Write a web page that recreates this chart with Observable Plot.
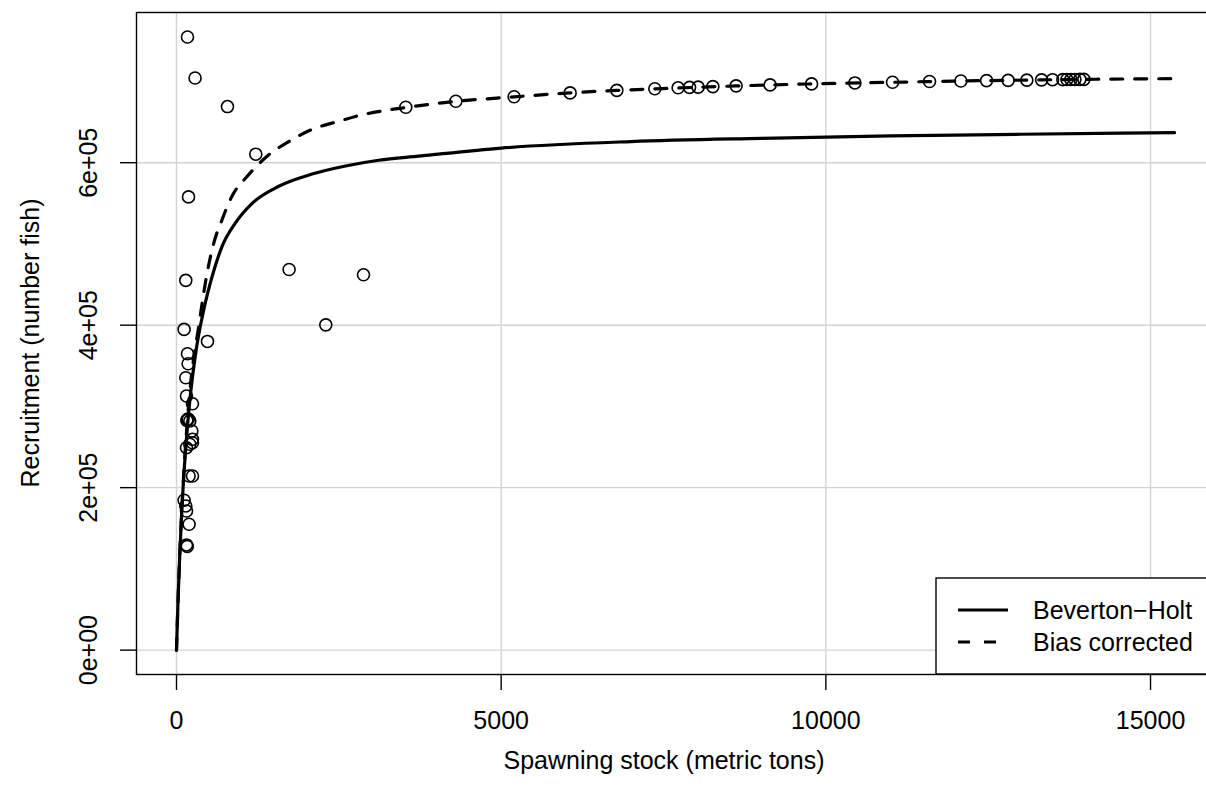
<!DOCTYPE html>
<html>
<head>
<meta charset="utf-8">
<script src="https://cdn.jsdelivr.net/npm/d3@7"></script>
<script src="https://cdn.jsdelivr.net/npm/@observablehq/plot@0.6"></script>
<style>
  html, body { margin: 0; padding: 0; background: #ffffff; overflow: hidden; }
  #chart svg { display: block; }
</style>
</head>
<body>
<div id="chart"></div>
<script>
// ---- Data ----
// Observed spawning stock (metric tons) and recruitment (number of fish)
const spawning = [169, 286, 785, 1221, 185, 1734, 2880, 143, 2299, 117, 477, 169, 179, 143, 154, 246,
  169, 159, 182, 205, 236, 246, 205, 246, 154, 194, 246, 117, 143, 154, 194, 154, 166,
  3531, 4302, 5199, 6062, 6781, 7366, 7725, 7901, 8033, 8260, 8618, 9142, 9780, 10447, 11027,
  11597, 12079, 12475, 12807, 13095, 13322, 13491, 13650, 13712, 13773, 13835, 13912, 13974];
const recruitment = [754700, 704300, 669100, 610500, 557900, 468600, 462000, 455200, 400400, 394800, 380000,
  364800, 352500, 335300, 312800, 303300, 284100, 282700, 284500, 282000, 269700, 259500, 253400, 255300,
  249200, 214400, 214400, 184500, 177500, 171300, 155000, 129500, 127700,
  668300, 675600, 681200, 685900, 689000, 691000, 692200, 692700, 693000, 693700, 694600, 695800, 697000,
  698200, 699100, 699900, 700600, 701100, 701400, 701700, 702000, 702200, 702300, 702400, 702400, 702500,
  702600, 702600];

// Beverton-Holt fitted curve
const bhStock = [0, 10, 25, 50, 75, 100, 150, 200, 300, 420, 549, 702, 908, 1165, 1575, 2088, 2603, 3115,
  3731, 5000, 7000, 9000, 11000, 13000, 15370];
const bhRecruit = [0, 27000, 64000, 117000, 160000, 198000, 257000, 303000, 368000, 419000, 460000, 497000,
  526000, 550000, 571000, 586000, 596000, 603000, 608000, 618000, 626000, 630000, 633000, 635000, 637000];

// Bias-corrected curve
const bcStock = [0, 10, 25, 50, 75, 100, 150, 200, 343, 471, 574, 702, 856, 1087, 1395, 1729, 2088, 2499,
  2858, 3269, 3531, 4302, 5199, 6062, 6781, 7725, 8618, 9780, 11027, 12079, 13095, 13974, 15370];
const bcRecruit = [0, 27000, 64000, 117000, 162000, 201000, 264000, 314000, 399000, 464000, 501000, 530000,
  559000, 583000, 608000, 626000, 641000, 651000, 659000, 665000, 668000, 675500, 681000, 686000, 689000,
  692000, 694500, 697000, 699000, 700600, 701700, 702600, 703500];

const xTicks = [0, 5000, 10000, 15000];
const yTicks = [0, 200000, 400000, 600000];
const yTickLabels = ["0e+00", "2e+05", "4e+05", "6e+05"];
const xTitle = "Spawning stock (metric tons)";
const yTitle = "Recruitment (number fish)";
const legendLabels = ["Beverton\u2212Holt", "Bias corrected"];

// ---- Build tables ----
const obs = spawning.map((s, i) => ({s, r: recruitment[i]}));
const bh = bhStock.map((s, i) => ({s, r: bhRecruit[i]}));
const bc = bcStock.map((s, i) => ({s, r: bcRecruit[i]}));

const W = 1206, H = 807;
// the plot box runs past the right edge of the picture (cropped like the reference)
const M = {left: 136, right: -10, top: 12, bottom: 133};
const FONT = "'Liberation Sans', Arial, Helvetica, sans-serif";
const FS = 25;
const grid = "#d3d3d3";

const chart = Plot.plot({
  width: W, height: H,
  marginLeft: M.left, marginRight: M.right, marginTop: M.top, marginBottom: M.bottom,
  style: {fontFamily: FONT, fontSize: FS + "px", background: "#ffffff", color: "#000000"},
  x: {domain: [-616, 16016]},
  y: {domain: [-30000, 784900]},
  marks: [
    Plot.gridX(xTicks, {stroke: grid, strokeOpacity: 1, strokeWidth: 1.4}),
    Plot.gridY(yTicks, {stroke: grid, strokeOpacity: 1, strokeWidth: 1.4}),
    Plot.line(bh, {x: "s", y: "r", stroke: "#000", strokeWidth: 3.2, curve: "monotone-x"}),
    Plot.line(bc, {x: "s", y: "r", stroke: "#000", strokeWidth: 3.2, strokeDasharray: "12,12", curve: "monotone-x"}),
    Plot.dot(obs, {x: "s", y: "r", r: 6, stroke: "#000", strokeWidth: 1.6, fill: "none"}),
    Plot.frame({stroke: "#000", strokeWidth: 1.4}),
    Plot.axisX(xTicks, {tickSize: 16, tickPadding: 21, tickFormat: d => String(d), fontSize: FS, label: null, stroke: "#000", strokeWidth: 1.4}),
    Plot.axisY(yTicks, {tickSize: 16, tickPadding: 0, tickFormat: () => "", label: null, stroke: "#000", strokeWidth: 1.4}),
    Plot.text(yTicks, {y: d => d, text: (d, i) => yTickLabels[i], frameAnchor: "left", dx: -48, rotate: -90,
      textAnchor: "middle", lineAnchor: "middle", fontSize: FS, fill: "#000"})
  ]
});

document.getElementById("chart").appendChild(chart);

// ---- Titles and legend (layout only) ----
const svg = d3.select(chart);
const frameL = M.left, frameR = W - M.right, frameT = M.top, frameB = H - M.bottom;

svg.append("text")
  .attr("x", 664).attr("y", 760)
  .attr("text-anchor", "middle").attr("dy", "0.35em")
  .attr("font-family", FONT).attr("font-size", FS).attr("fill", "#000")
  .text(xTitle);

svg.append("text")
  .attr("transform", `translate(30,${(frameT + frameB) / 2}) rotate(-90)`)
  .attr("text-anchor", "middle").attr("dy", "0.35em")
  .attr("font-family", FONT).attr("font-size", FS).attr("fill", "#000")
  .text(yTitle);

const lg = svg.append("g");
const lgLeft = 936, lgTop = 578;
lg.append("rect")
  .attr("x", lgLeft).attr("y", lgTop)
  .attr("width", frameR - lgLeft).attr("height", frameB - lgTop)
  .attr("fill", "#fff").attr("stroke", "#000").attr("stroke-width", 1.4);
const rows = [{y: 610, dash: null}, {y: 642, dash: "12,14"}];
rows.forEach((row, i) => {
  lg.append("line")
    .attr("x1", 958).attr("x2", 1008).attr("y1", row.y).attr("y2", row.y)
    .attr("stroke", "#000").attr("stroke-width", 3.2)
    .attr("stroke-dasharray", row.dash);
  lg.append("text")
    .attr("x", 1033).attr("y", row.y).attr("dy", "0.35em")
    .attr("text-anchor", "start")
    .attr("font-family", FONT).attr("font-size", FS).attr("fill", "#000")
    .text(legendLabels[i]);
});
</script>
</body>
</html>
